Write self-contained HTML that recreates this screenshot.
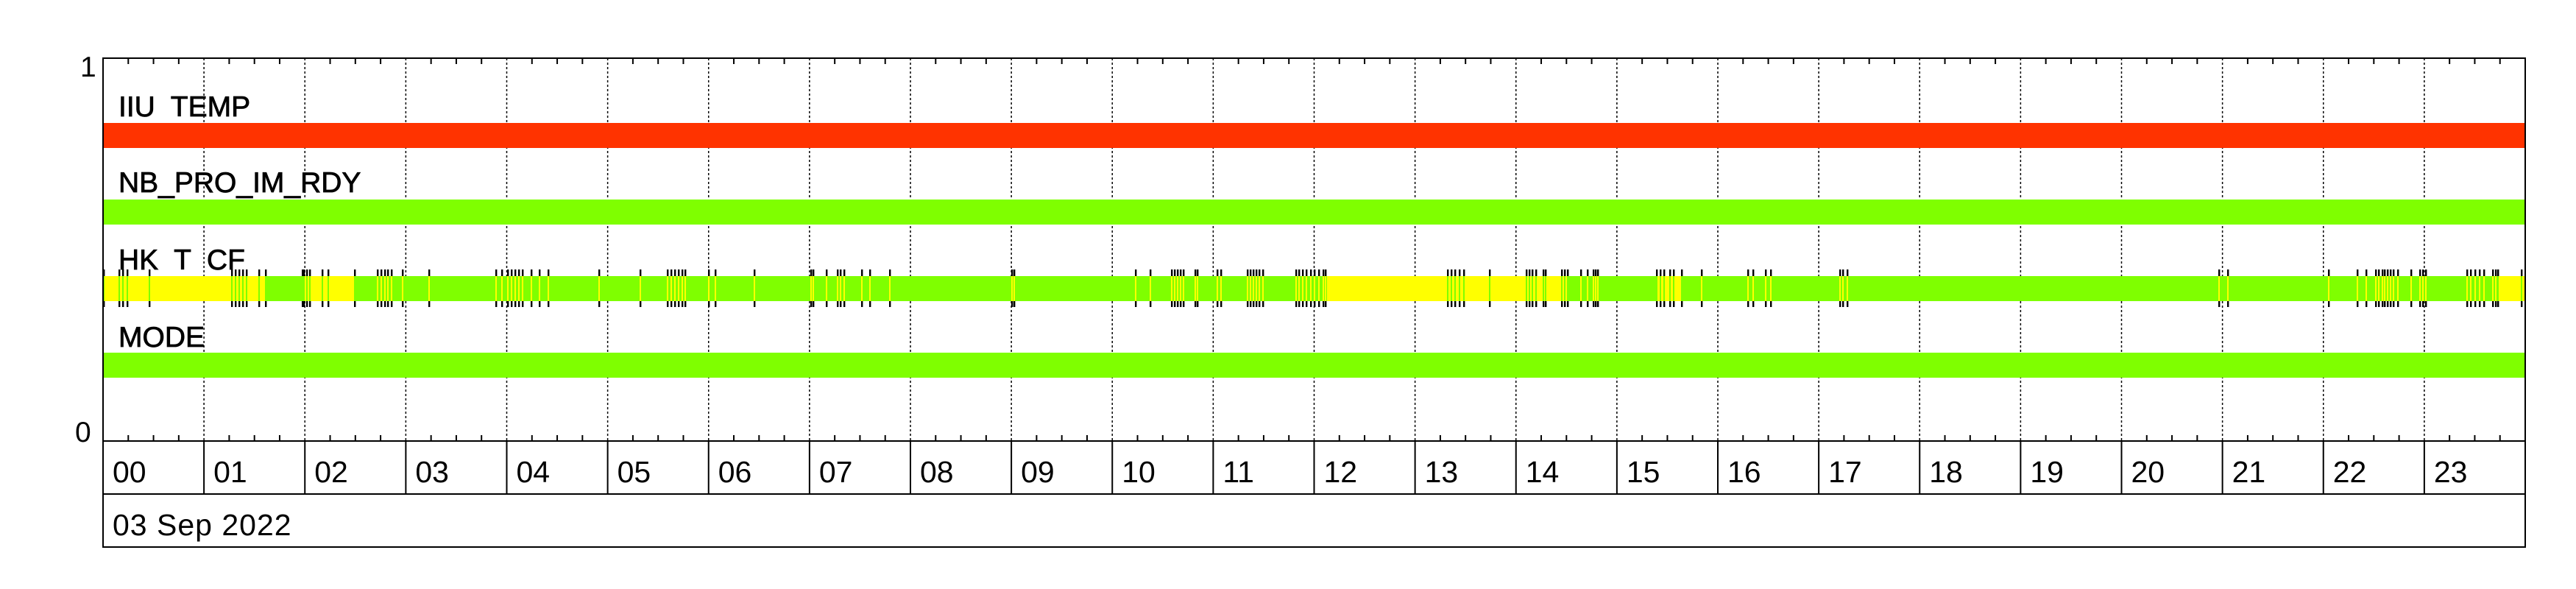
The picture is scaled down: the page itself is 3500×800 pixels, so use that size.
<!DOCTYPE html>
<html><head><meta charset="utf-8"><style>
html,body{margin:0;padding:0;background:#fff;width:3500px;height:800px;overflow:hidden}
svg{display:block}
text{font-family:"Liberation Sans",sans-serif;fill:#000;white-space:pre}
.lb{stroke:#000;stroke-width:0.8}
</style></head><body>
<svg width="3500" height="800" viewBox="0 0 3500 800" xmlns="http://www.w3.org/2000/svg">
<defs>
<g id="m"><rect x="-1" y="375" width="2" height="34" fill="#ffff00"/><rect x="-1" y="366" width="2.4" height="9" fill="#000"/><rect x="-1" y="409" width="2.4" height="8" fill="#000"/></g>
<g id="g"><rect x="-1" y="375" width="2" height="34" fill="#7fff00"/><rect x="-1" y="366" width="2.4" height="9" fill="#000"/><rect x="-1" y="409" width="2.4" height="8" fill="#000"/></g>
</defs>
<rect width="3500" height="800" fill="#fff"/>
<g id="grid" stroke="#000" stroke-width="1.5" stroke-dasharray="3,3"></g>
<script>
(function(){
var ns="http://www.w3.org/2000/svg",svg=document.querySelector('svg'),grid=document.getElementById('grid');
var L=140,W=137.125;
function el(n,a,p){var e=document.createElementNS(ns,n);for(var k in a)e.setAttribute(k,a[k]);(p||svg).appendChild(e);return e;}
for(var h=1;h<24;h++){var x=L+W*h;el('line',{x1:x,y1:79,x2:x,y2:599},grid);}
})();
</script>
<rect x="140" y="167" width="3291" height="34" fill="#ff3300"/>
<rect x="140" y="271" width="3291" height="34" fill="#7fff00"/>
<rect x="140" y="479" width="3291" height="34" fill="#7fff00"/>
<rect x="140" y="375" width="3291" height="34" fill="#7fff00"/>
<g id="hk">
<rect x="141" y="375" width="220" height="34" fill="#ffff00"/>
<rect x="411" y="375" width="71" height="34" fill="#ffff00"/>
<rect x="1803" y="375" width="327" height="34" fill="#ffff00"/>
<rect x="2250" y="375" width="35" height="34" fill="#ffff00"/>
<rect x="3394" y="375" width="37" height="34" fill="#ffff00"/>
</g>
<text class="lb" x="161" y="158" font-size="39">IIU  TEMP</text>
<text class="lb" x="161" y="261" font-size="39">NB_PRO_IM_RDY</text>
<text class="lb" x="161" y="366" font-size="39">HK  T  CF</text>
<text class="lb" x="161" y="471" font-size="39">MODE</text>
<text x="109" y="104" font-size="39">1</text>
<text x="102" y="600" font-size="39">0</text>
<g id="frame" fill="none" stroke="#000" stroke-width="2">
<rect x="140" y="79" width="3291" height="664"/>
<line x1="140" y1="599" x2="3431" y2="599"/>
<line x1="140" y1="671" x2="3431" y2="671"/>
</g>
<g id="labels"></g>
<script>
(function(){
var ns="http://www.w3.org/2000/svg",svg=document.querySelector('svg');
var L=140,W=137.125;
function el(n,a,p,t){var e=document.createElementNS(ns,n);for(var k in a)e.setAttribute(k,a[k]);if(t!=null)e.textContent=t;(p||svg).appendChild(e);return e;}
var hk=document.getElementById('hk');
function use(id,x){el('use',{href:'#'+id,x:x},hk);}
[141,162,167,173,203,315,320,325,330,335,352,361,411,413,417,421,438,446,482,1967,1972,1977,1983,1989,2024,2074,2078,2082,2087,2097,2100,2122,2126,2130,2251,2256,2261,2269,2274,2285,3394,3426].forEach(function(x){use('g',x);});
[513,518,523,527,532,547,583,674,682,690,695,700,705,710,722,733,745,814,870,907,912,917,922,927,931,963,972,1025,1102,1105,1123,1138,1142,1147,1171,1182,1209,1375,1378,1543,1563,1592,1596,1600,1604,1608,1624,1627,1654,1659,1695,1699,1703,1707,1711,1716,1761,1765,1770,1775,1781,1786,1792,1798,1801,2148,2157,2165,2168,2171,2312,2375,2382,2399,2406,2500,2504,2510,3015,3027,3164,3203,3215,3228,3232,3237,3240,3244,3248,3252,3258,3276,3288,3292,3296,3352,3357,3363,3369,3375,3387,3391].forEach(function(x){use('m',x);});
var lab=document.getElementById('labels');
for(var h=0;h<24;h++){
  var x=L+W*h;
  for(var q=1;q<4;q++){var xq=x+W*q/4;
    el('line',{x1:xq,y1:79,x2:xq,y2:87,stroke:'#000','stroke-width':2},lab);
    el('line',{x1:xq,y1:591,x2:xq,y2:599,stroke:'#000','stroke-width':2},lab);}
  if(h>0)el('line',{x1:x,y1:599,x2:x,y2:671,stroke:'#000','stroke-width':2},lab);
  el('text',{x:x+13,y:655,'font-size':41},lab,(h<10?'0':'')+h);
}
el('text',{x:153,y:727,'font-size':41,'letter-spacing':1},lab,'03 Sep 2022');
})();
</script>
</svg>
</body></html>
